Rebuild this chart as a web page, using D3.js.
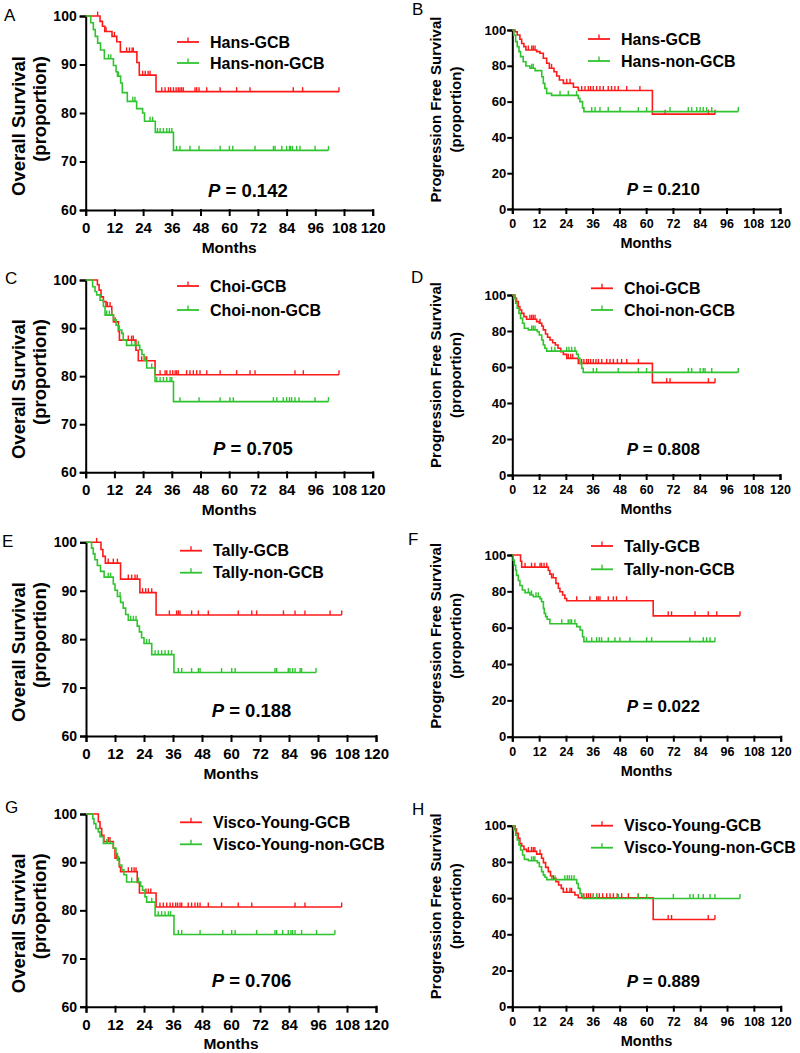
<!DOCTYPE html>
<html>
<head>
<meta charset="utf-8">
<script src="https://cdn.jsdelivr.net/npm/d3@7"></script>
<style>
body { margin: 0; background: #fff; }
svg { display: block; font-family: Arial, "Liberation Sans", sans-serif; }
</style>
</head>
<body>
<svg id="fig" width="800" height="1053"></svg>
<script>
// ---- data: [month, survival %] after each drop, plus censor months
var monthTicks = [0, 12, 24, 36, 48, 60, 72, 84, 96, 108, 120];
var osTicks = [60, 70, 80, 90, 100];
var pfsTicks = [0, 20, 40, 60, 80, 100];
var panelLetters = ["A", "B", "C", "D", "E", "F", "G", "H"];
var pValues = ["0.142", "0.210", "0.705", "0.808", "0.188", "0.022", "0.706", "0.889"];
var classifiers = ["Hans", "Choi", "Tally", "Visco-Young"];

var hansGcbOs = [[6,98.9],[7,97.9],[8,96.8],[11,95.8],[13,94.7],[14.5,92.6],[21.4,90.4],[22.4,87.8],[29.4,84.4]];
var hansGcbOsCens = [5,8.5,12,17.1,18.3,19.4,19.9,23.8,24.9,26.1,26.9,31.8,33.2,34.6,35.5,36.7,37.8,38.7,39.4,40.1,40.8,45.7,46.4,47.4,50.6,56.2,63.1,68.7,86.8,90.7,105.9];
var hansNonOs = [[2.1,98.6],[3.2,97.2],[4,95.8],[5,94.4],[6.2,93],[7.8,91.2],[11.6,89.8],[12.7,88.5],[13.3,87.6],[14.6,86.2],[15.3,84.2],[17.4,82.4],[21.3,80.9],[23.8,80],[24.6,78.3],[29.1,76],[36.7,72.3]];
var hansNonOsCens = [9.5,10.5,13.7,19.7,20.6,26.9,28,30,31.1,32.5,33.9,35,36,38,39.4,43.6,47.4,56.2,60.1,61.5,70.8,78.5,79.2,82,84,85.2,85.7,86.5,88.2,89.6,95.9,101.5];
var hansGcbPfs = [[1.2,99],[2.2,97.2],[3.4,94.8],[4.2,92.5],[5.2,90.7],[6.1,88.8],[10.9,87.9],[12.4,87],[13.9,84.2],[15.4,81.4],[16.6,78.6],[18.7,76.7],[19.9,74.3],[21.1,72.1],[22.9,70.2],[27.4,68],[29.6,66.2],[62.8,53]];
var hansGcbPfsCens = [7.2,8.7,9.4,10.2,17.6,24.4,25.9,31.1,32.6,34.1,35.1,36.3,37.8,39.3,40.8,43,44.5,46,47.5,51.3,57.2,68.5,87.9,90.9];
var hansNonPfs = [[0.7,97.2],[1.5,93.5],[2.2,90.7],[3,87.9],[3.7,85.1],[4.9,82.3],[6.1,79.9],[7.9,78.6],[10.2,77.3],[13.2,73.9],[13.9,70.2],[14.6,67.4],[15.4,64.6],[17.6,63.5],[29.6,61.8],[30.3,60],[31.5,56.5],[32.1,54.4]];
var hansNonPfsCens = [8.7,9.4,21.4,25.1,28.8,35.6,37.1,39.3,43,48.3,56.5,60.2,70.7,78.9,80.4,82.7,84.2,85.6,87.1,89.4,101.3];

var choiGcbOs = [[4.9,99],[5.6,97.9],[6.4,96.5],[7.4,95.5],[8.5,94.5],[10.9,92.7],[11.6,91.3],[13.7,89.3],[14.1,87.5],[21,85.4],[22,83.2],[29,80.3]];
var choiGcbOsCens = [9.1,10.2,12.3,17.8,19.2,19.9,23.4,24.8,25.5,31.1,33.2,33.9,35.3,36.4,37.4,38,38.7,42.2,43.6,45,46.4,47.8,50.6,56.2,63.1,68.7,70.8,87.5,91,105.9];
var choiNonOs = [[2.9,98.6],[3.9,97.6],[4.6,96.9],[6,95.8],[7.4,94.5],[8.1,92.7],[11.6,91.7],[12.7,90.6],[13.7,89.6],[15.1,88.9],[15.7,87.5],[17.1,86.4],[22.6,85.5],[23.5,84.5],[24.4,83.3],[25.5,81.7],[29,78.9],[36.7,74.7]];
var choiNonOsCens = [8.8,9.9,10.9,14.1,19.2,20.6,22,27.6,29.7,31.1,32.5,33.9,35.3,36,39.4,47.4,56.2,60.3,61.7,78.5,79.9,82.6,84,85.2,86.1,87.5,89.2,95.9,101.5];
var choiGcbPfs = [[1.2,98.1],[1.9,96.3],[2.7,93.5],[3.4,91.7],[4.2,89.8],[5.2,88],[6.4,86.5],[10.9,85.2],[12.1,84.3],[13.2,82.8],[13.9,80.6],[14.9,78.3],[15.8,76.5],[16.9,75],[18.1,73.5],[19.3,72.2],[20.5,70.4],[21.7,68.5],[22.9,67],[24.4,64.8],[29.6,62],[62.8,51.3]];
var choiGcbPfsCens = [7.9,8.7,9.4,10.2,12.4,25.1,26.2,27.1,31.1,32.1,33.3,34.1,35.1,36.3,37.5,38.6,40.1,42.3,43.8,45.3,47.1,49,51.3,56.5,69.2,70.7,87.9,90.9];
var choiNonPfs = [[0.7,98.1],[1.5,95.4],[2.2,92.6],[3,89.8],[3.7,87],[4.6,84.3],[5.4,81.5],[7.2,80.6],[11.2,79.6],[12.1,77.8],[13.2,75],[13.9,72.2],[14.6,70.4],[15.4,68.8],[28.8,67],[29.6,64.8],[30.3,62],[31.1,59.3],[31.8,57]];
var choiNonPfsCens = [8.7,9.4,10.2,17.6,19.1,24.4,25.4,26.6,28.1,36.3,37.8,47.5,56.5,60.2,78.9,80.4,84.2,85.6,86.4,89.4,101.3];

var tallyGcbOs = [[6.2,98.5],[7,97.1],[8,95.7],[14.3,92.4],[22.3,89.6],[29,85]];
var tallyGcbOsCens = [4.4,9.2,11.3,13,17.5,18.9,20.3,21.2,23.4,24.7,25.8,27.2,34.5,37.5,38.2,38.9,43.7,46.5,50.6,63,68.6,70.6,81.7,86.5,90.6,101,105.8];
var tallyNonOs = [[2.3,98.8],[3,97.6],[3.7,96.4],[4.7,95.2],[6,94],[7.5,92.8],[11.3,91.4],[12,90.1],[13,88.8],[14.3,87.6],[15.4,86.4],[16.4,85.1],[17.5,83.9],[21.2,82.7],[22.1,81.5],[23,80.3],[24,79.1],[27.2,76.8],[36.4,73.1]];
var tallyNonOsCens = [9.2,10.2,14.1,18.5,19.6,20.7,25.1,26.2,28.6,29.9,31.3,32.7,34.1,35.4,38.2,39.6,43.7,46.5,47.2,56.1,60.3,61.7,78.2,78.9,83.7,84.4,85.5,86.5,88.6,89.2,95.2];
var tallyGcbPfs = [[3.7,96.6],[4.2,93.3],[16.1,91.5],[16.8,89.5],[17.6,87.5],[19.5,84.4],[20.6,81.7],[21.3,79.8],[22.5,78],[23.5,76.1],[24.3,74.8],[63,66.5]];
var tallyGcbPfsCens = [5.7,8.6,10.1,12.4,13.1,14.2,15.4,18.3,28.8,34.7,37.7,38.4,39.2,42.9,45.2,46.6,51.1,69.7,71.2,81.7,87.6,91.4,101.8];
var tallyNonPfs = [[0.4,97.2],[0.9,94.4],[1.5,91.6],[1.9,88.8],[2.7,86],[3.4,83.2],[4.5,80.7],[5.7,79.3],[7.9,78],[9.4,77],[12.4,76],[13.1,74.3],[13.9,70.6],[14.3,67.9],[14.9,66.1],[15.6,64.6],[16.8,62.2],[28.8,60.6],[30.3,58.7],[31.4,55],[32,52.3]];
var tallyNonPfsCens = [7.2,8.6,10.6,11.6,22.1,25,25.8,26.5,28,33.2,35.5,37.7,38.9,39.9,42.9,45.9,48.1,52.6,60.1,62.3,79.4,85.4,86.9,88.4,90.6];

var viscoGcbOs = [[5.1,98.4],[5.8,97],[6.5,95.6],[7.4,94.3],[11.3,92.9],[12,90.8],[13.8,89],[14.3,88],[21.2,85.8],[22.1,83.6],[29,80.7]];
var viscoGcbOsCens = [9.2,9.9,12.7,17.5,18.9,19.9,20.7,24.8,25.8,26.8,30.6,32,33.4,34.8,35.9,37.1,37.9,38.9,39.6,42.3,43.7,45.1,46.2,47.2,50.6,56.1,63,68.6,86.5,90.6,105.8];
var viscoNonOs = [[2.8,99],[3.3,98],[4.1,97],[5.1,96.3],[5.8,95.3],[7.2,93.9],[11.3,92.9],[12.4,91.8],[13,90.4],[13.8,89.4],[14.8,88.4],[15.7,87.4],[16.8,85.9],[22.6,85],[23.4,84.2],[24.4,82.8],[25.1,81.7],[28.6,78.9],[36.4,75]];
var viscoNonOsCens = [8.6,9.9,13.4,18.9,21.7,27.2,29.9,31.3,32.7,34.1,35,38.2,39.6,47.2,56.6,60.3,61.7,70.6,78.2,78.9,81.4,83.7,84.8,85.5,86.5,89.2,95.4,103];
var viscoGcbPfs = [[1.2,98.2],[1.9,95.8],[2.7,93],[3.4,90.2],[4.2,88.8],[5.2,86.9],[6.4,85.8],[10.9,84.3],[13.1,82],[13.9,79.6],[14.9,77],[16.1,74.6],[17.1,72.2],[18.3,70.9],[19.5,69.1],[20.7,67.2],[21.9,65.4],[22.8,63.2],[28,61.7],[29.5,60.2],[63,48.2]];
var viscoGcbPfsCens = [7.2,8.6,9.4,10.1,12.4,24.3,25.8,26.5,31,32,33.2,34.1,35,36.2,37.7,38.9,40.4,42.2,43.7,45.2,46.9,48.9,51.9,56.3,69.7,71.2,87.6,90.6];
var viscoNonPfs = [[0.7,97.6],[1.5,94.8],[2.2,92.1],[3,89.3],[3.7,86.6],[4.6,83.8],[5.4,81.4],[7.2,80.6],[11.2,79.6],[12.1,77.3],[13.1,74.6],[13.9,72.7],[14.6,71.5],[15.4,70.2],[28.8,68.1],[29.5,65.4],[30.3,62.6],[31,61.1],[31.7,59.8]];
var viscoNonPfsCens = [8.6,9.4,10.1,17.6,19.1,23.5,24.6,25.5,26.5,27.6,36.2,37.7,47.4,56.3,60.1,72,79.4,80.9,83.2,85.4,88.4,90.6,101.8];

// ---- panel placement on the page (pixels)
var layouts = [
  {x0: 85.7, x1: 372.7, top: 16, bot: 210, leg: [42, 63], legX: 177, pX: 208, pY: 197, lx: 4, ly: 21},
  {x0: 512.3, x1: 780, top: 30, bot: 209, leg: [39, 61], legX: 588, pX: 626.7, pY: 195, lx: 412, ly: 15},
  {x0: 85.7, x1: 372.7, top: 280, bot: 472.3, leg: [286, 310], legX: 177, pX: 213, pY: 455, lx: 5, ly: 284},
  {x0: 512.3, x1: 780, top: 295, bot: 475, leg: [288.3, 310], legX: 591, pX: 626.7, pY: 455, lx: 411, ly: 283},
  {x0: 86, x1: 376, top: 542.3, bot: 736, leg: [550.7, 572.7], legX: 180, pX: 211.7, pY: 716.7, lx: 2, ly: 547},
  {x0: 512.3, x1: 780.7, top: 555, bot: 736.7, leg: [546, 569.3], legX: 591, pX: 626.7, pY: 711.7, lx: 408, ly: 545},
  {x0: 86, x1: 376, top: 814, bot: 1006.7, leg: [822.3, 844.3], legX: 180, pX: 211.7, pY: 986.7, lx: 5, ly: 813},
  {x0: 512.3, x1: 780.7, top: 825.7, bot: 1006.7, leg: [825.7, 847.7], legX: 591, pX: 626.7, pY: 986.7, lx: 412, ly: 815}
];

var curves = [
  [hansGcbOs, hansGcbOsCens, hansNonOs, hansNonOsCens],
  [hansGcbPfs, hansGcbPfsCens, hansNonPfs, hansNonPfsCens],
  [choiGcbOs, choiGcbOsCens, choiNonOs, choiNonOsCens],
  [choiGcbPfs, choiGcbPfsCens, choiNonPfs, choiNonPfsCens],
  [tallyGcbOs, tallyGcbOsCens, tallyNonOs, tallyNonOsCens],
  [tallyGcbPfs, tallyGcbPfsCens, tallyNonPfs, tallyNonPfsCens],
  [viscoGcbOs, viscoGcbOsCens, viscoNonOs, viscoNonOsCens],
  [viscoGcbPfs, viscoGcbPfsCens, viscoNonPfs, viscoNonPfsCens]
];

var RED = "#ff1a1a", GREEN = "#2fc42f";
var svg = d3.select("#fig");

function survivalAt(steps, t) {
    var s = 100;
    steps.forEach(function(d) { if (d[0] <= t) s = d[1]; });
    return s;
}

function drawPanel(i) {
    var L = layouts[i],
        isOS = i % 2 === 0,
        name = classifiers[Math.floor(i / 2)],
        c = curves[i];

    var x = d3.scaleLinear().domain([0, 120]).range([L.x0, L.x1]);
    var y = d3.scaleLinear().domain(isOS ? [60, 100] : [0, 100]).range([L.bot, L.top]);
    var g = svg.append("g");

    var xAxis = g.append("g")
        .attr("transform", "translate(0," + L.bot + ")")
        .call(d3.axisBottom(x).tickValues(monthTicks).tickSizeOuter(0)
            .tickSize(isOS ? 5 : 4).tickPadding(isOS ? 7.5 : 6.5));
    var yAxis = g.append("g")
        .attr("transform", "translate(" + L.x0 + ",0)")
        .call(d3.axisLeft(y).tickValues(isOS ? osTicks : pfsTicks).tickSizeOuter(0)
            .tickSize(isOS ? 5 : 4).tickPadding(isOS ? 4 : 2));

    [xAxis, yAxis].forEach(function(a) {
        a.attr("font-family", null).attr("font-size", null);
        a.selectAll("path, line").attr("stroke", "#000").attr("stroke-width", 2)
            .attr("stroke-linecap", "square");
        a.selectAll("text").attr("fill", "#000").attr("font-weight", "bold");
    });
    xAxis.selectAll("text").attr("font-size", isOS ? 15 : 12.5);
    yAxis.selectAll("text").attr("font-size", isOS ? 14 : 13);

    // axis titles
    g.append("text")
        .attr("x", (L.x0 + L.x1) / 2)
        .attr("y", L.bot + (isOS ? 42.5 : 39))
        .attr("text-anchor", "middle")
        .attr("font-weight", "bold")
        .attr("font-size", isOS ? 15.5 : 14.5)
        .text("Months");

    var mid = (L.top + L.bot) / 2;
    var yLines = isOS ? ["Overall Survival", "(proportion)"] : ["Progression Free Survival", "(proportion)"];
    yLines.forEach(function(t, k) {
        var cx = isOS ? L.x0 - 67 + k * 21 : L.x0 - 77 + k * 20;
        var cy = isOS ? mid - 57 : mid - 10;
        g.append("text")
            .attr("transform", "translate(" + cx + "," + cy + ") rotate(-90)")
            .attr("dy", "0.35em")
            .attr("text-anchor", isOS ? "end" : "middle")
            .attr("font-weight", "bold")
            .attr("font-size", isOS ? 18.5 : 15)
            .text(t);
    });

    // panel letter
    g.append("text")
        .attr("x", L.lx).attr("y", L.ly)
        .attr("font-size", 17)
        .text(panelLetters[i]);

    // curves
    var line = d3.line()
        .curve(d3.curveStepAfter)
        .x(function(d) { return x(d[0]); })
        .y(function(d) { return y(d[1]); });

    [[c[0], c[1], RED], [c[2], c[3], GREEN]].forEach(function(s) {
        var steps = s[0], cens = s[1];
        var end = Math.max(d3.max(cens), d3.max(steps, function(d) { return d[0]; }));
        var pts = [[0, 100]].concat(steps).concat([[end, steps[steps.length - 1][1]]]);

        g.append("path")
            .attr("d", line(pts))
            .attr("fill", "none")
            .attr("stroke", s[2])
            .attr("stroke-width", 1.6);

        g.selectAll(null)
            .data(cens)
            .enter()
            .append("line")
            .attr("x1", function(d) { return x(d); })
            .attr("x2", function(d) { return x(d); })
            .attr("y1", function(d) { return y(survivalAt(steps, d)); })
            .attr("y2", function(d) { return y(survivalAt(steps, d)) - 4.5; })
            .attr("stroke", s[2])
            .attr("stroke-width", 1.4);
    });

    // legend
    [[name + "-GCB", RED], [name + "-non-GCB", GREEN]].forEach(function(e, k) {
        var ly = L.leg[k];
        g.append("line")
            .attr("x1", L.legX).attr("x2", L.legX + 22)
            .attr("y1", ly).attr("y2", ly)
            .attr("stroke", e[1]).attr("stroke-width", 1.8);
        g.append("line")
            .attr("x1", L.legX + 11).attr("x2", L.legX + 11)
            .attr("y1", ly).attr("y2", ly - 4.5)
            .attr("stroke", e[1]).attr("stroke-width", 1.4);
        g.append("text")
            .attr("x", L.legX + 33).attr("y", ly)
            .attr("dy", "0.36em")
            .attr("font-weight", "bold")
            .attr("font-size", 16)
            .text(e[0]);
    });

    // p value
    var p = g.append("text")
        .attr("x", L.pX).attr("y", L.pY)
        .attr("font-weight", "bold")
        .attr("font-size", isOS ? 18.5 : 17);
    p.append("tspan").attr("font-style", "italic").text("P");
    p.append("tspan").text(" = " + pValues[i]);
}

for (var i = 0; i < 8; i++) drawPanel(i);
</script>
</body>
</html>
